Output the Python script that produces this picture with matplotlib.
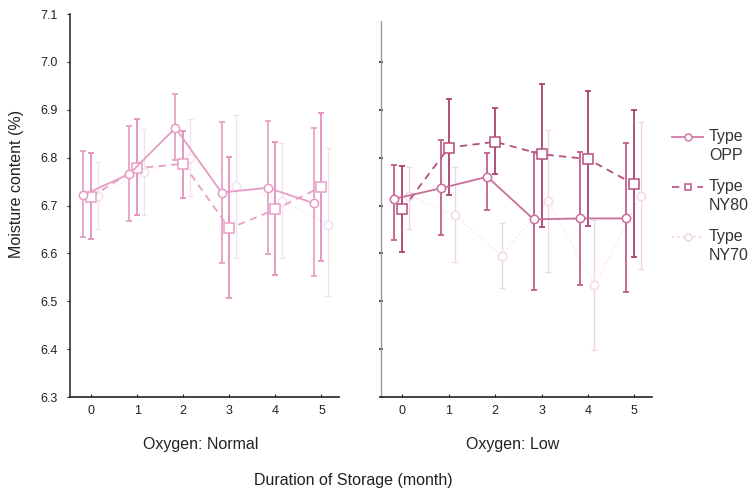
import numpy as np
import matplotlib
matplotlib.use("Agg")
import matplotlib.pyplot as plt
from matplotlib.lines import Line2D

plt.rcParams['font.family'] = ['Liberation Sans', 'DejaVu Sans']

# -----------------------------------------------------------------------------
# data (mean, lower and upper end of the error bar)
# -----------------------------------------------------------------------------
months = np.array([0, 1, 2, 3, 4, 5])
types = ["OPP", "NY80", "NY70"]
panels = ["Oxygen: Normal", "Oxygen: Low"]

normal_opp = [6.722, 6.766, 6.862, 6.727, 6.737, 6.705]
normal_opp_lo = [6.635, 6.668, 6.795, 6.580, 6.598, 6.553]
normal_opp_hi = [6.814, 6.866, 6.932, 6.875, 6.877, 6.861]

normal_ny80 = [6.718, 6.778, 6.787, 6.652, 6.692, 6.739]
normal_ny80_lo = [6.629, 6.680, 6.715, 6.506, 6.555, 6.585]
normal_ny80_hi = [6.809, 6.880, 6.856, 6.802, 6.833, 6.894]

normal_ny70 = [6.720, 6.770, 6.800, 6.740, 6.710, 6.660]
normal_ny70_lo = [6.650, 6.680, 6.720, 6.590, 6.590, 6.510]
normal_ny70_hi = [6.790, 6.860, 6.880, 6.890, 6.830, 6.820]

low_opp = [6.714, 6.736, 6.760, 6.671, 6.673, 6.673]
low_opp_lo = [6.627, 6.638, 6.690, 6.523, 6.534, 6.520]
low_opp_hi = [6.785, 6.837, 6.810, 6.812, 6.812, 6.830]

low_ny80 = [6.692, 6.821, 6.833, 6.807, 6.797, 6.744]
low_ny80_lo = [6.603, 6.722, 6.765, 6.656, 6.658, 6.592]
low_ny80_hi = [6.782, 6.922, 6.904, 6.953, 6.939, 6.900]

low_ny70 = [6.720, 6.680, 6.595, 6.710, 6.534, 6.720]
low_ny70_lo = [6.650, 6.583, 6.527, 6.562, 6.398, 6.567]
low_ny70_hi = [6.780, 6.781, 6.664, 6.858, 6.670, 6.875]

series = {
    "Oxygen: Normal": [(normal_opp, normal_opp_lo, normal_opp_hi),
                       (normal_ny80, normal_ny80_lo, normal_ny80_hi),
                       (normal_ny70, normal_ny70_lo, normal_ny70_hi)],
    "Oxygen: Low": [(low_opp, low_opp_lo, low_opp_hi),
                    (low_ny80, low_ny80_lo, low_ny80_hi),
                    (low_ny70, low_ny70_lo, low_ny70_hi)],
}

# styles (the scan is faded: left panel lighter than the right one)
offsets = [-0.17, 0.0, 0.14]
linestyles = ["-", (0, (4, 3)), (0, (1, 2))]
markers = ["o", "s", "o"]
colours = {
    "Oxygen: Normal": ["#e99cc3", "#e7a0c6", "#f5e1eb"],
    "Oxygen: Low": ["#c96e98", "#b54f7e", "#f2dbe6"],
}
ecolours = {
    "Oxygen: Normal": ["#e6a2c6", "#e290bd", "#f4e0ea"],
    "Oxygen: Low": ["#c25f8d", "#a9426f", "#f0d6e2"],
}

fig = plt.figure(figsize=(7.52, 4.93), dpi=100)
ax_l = fig.add_axes([70 / 752, 1 - 397 / 493, 269 / 752, 383 / 493])
ax_r = fig.add_axes([381 / 752, 1 - 397 / 493, 271 / 752, 383 / 493])

for ax, panel in zip([ax_l, ax_r], panels):
    for k, (mean, lo, hi) in enumerate(series[panel]):
        mean = np.asarray(mean)
        yerr = [mean - np.asarray(lo), np.asarray(hi) - mean]
        x = months + offsets[k]
        col = colours[panel][k]
        lw = 1.3 if k < 2 else 0.9
        z = 3 - k
        ax.errorbar(x, mean, yerr=yerr, fmt="none", ecolor=ecolours[panel][k],
                    elinewidth=lw, capsize=2, capthick=lw, zorder=z)
        ax.plot(x, mean, linestyle=linestyles[k], color=col, lw=lw,
                marker=markers[k], ms=6 if k != 1 else 6.5, mfc="white",
                mec=col, mew=1.1, zorder=z + 0.5)

    ax.set_xlim(-0.46, 5.38)
    ax.set_ylim(6.3, 7.1)
    ax.set_xticks(months)
    for s in ["top", "right"]:
        ax.spines[s].set_visible(False)
    ax.spines["bottom"].set_color("#222222")
    ax.spines["bottom"].set_linewidth(1.2)
    ax.tick_params(axis="x", direction="in", length=2.5, width=0.8,
                   labelsize=9, pad=6, colors="#222222")
    ax.set_facecolor("none")

yticks = np.arange(6.3, 7.11, 0.1)
ax_l.set_yticks(yticks)
ax_l.set_yticklabels([f"{v:.1f}" for v in yticks])
ax_l.spines["left"].set_color("#222222")
ax_l.spines["left"].set_linewidth(1.1)
ax_l.tick_params(axis="y", direction="out", length=2, width=0.8,
                 labelsize=9, pad=7, colors="#222222")

ax_r.set_yticks(yticks[:-1])
ax_r.spines["left"].set_color("#9a9a9a")
ax_r.spines["left"].set_linewidth(1.0)
ax_r.spines["left"].set_bounds(6.3, 7.085)
ax_r.tick_params(axis="y", direction="inout", length=3, width=1.2,
                 labelleft=False, colors="#333333")

fig.text(17 / 752, 1 - 184 / 493, "Moisture content (%)", rotation=90,
         ha="center", va="center", fontsize=11.5, color="#222222")
fig.text(201 / 752, 1 - 445 / 493, panels[0], ha="center", va="center",
         fontsize=11.5, color="#222222")
fig.text(513 / 752, 1 - 445 / 493, panels[1], ha="center", va="center",
         fontsize=11.5, color="#222222")
fig.text(353 / 752, 1 - 480 / 493, "Duration of Storage (month)",
         ha="center", va="center", fontsize=11.5, color="#222222")

# legend, drawn by hand: handle beside the first line of a two-line label
leg_cols = ["#d27ba3", "#c0588a", "#ecd5e0"]
leg_y = [137, 187, 237]
for k, t in enumerate(types):
    yy = 1 - leg_y[k] / 493
    fig.add_artist(Line2D([672 / 752, 703 / 752], [yy, yy],
                          transform=fig.transFigure, color=leg_cols[k],
                          linestyle=linestyles[k], lw=1.3))
    fig.add_artist(Line2D([687.5 / 752], [yy], transform=fig.transFigure,
                          marker=markers[k], ms=5, mfc="white",
                          mec=leg_cols[k], mew=1.1, linestyle="none"))
    fig.text(709 / 752, yy + 8 / 493, f"Type\n{t}", ha="left", va="top",
             fontsize=11.5, color="#333333", linespacing=1.3)

fig.savefig("out.png", dpi=100)
